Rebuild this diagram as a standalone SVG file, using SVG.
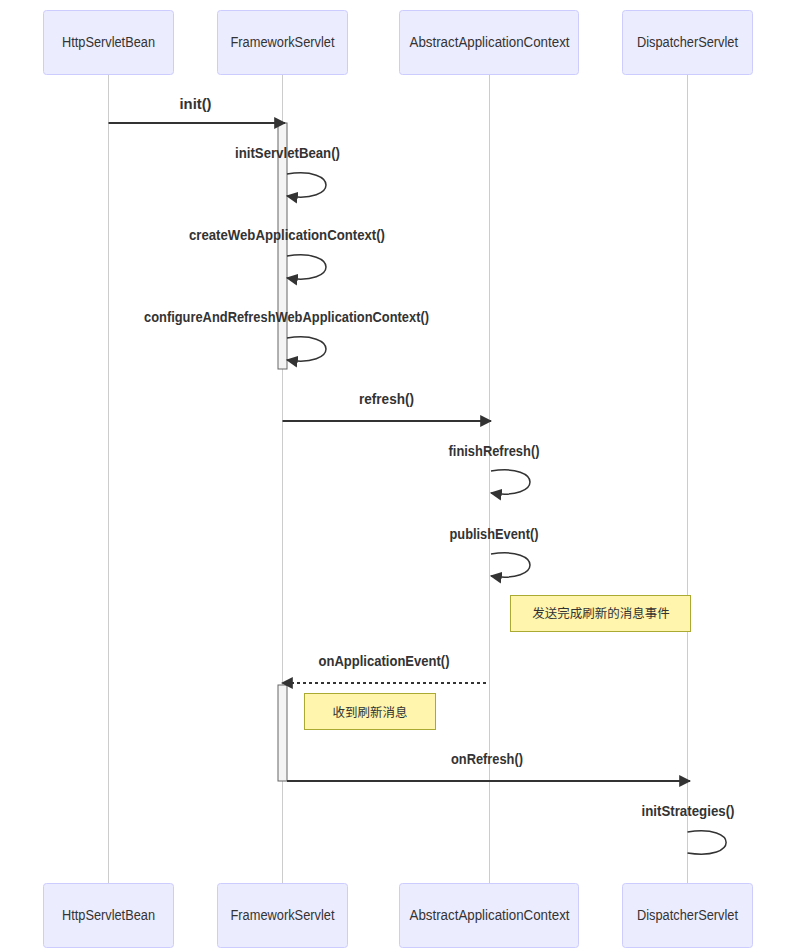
<svg xmlns="http://www.w3.org/2000/svg" width="796" height="949" viewBox="0 0 796 949">
  <style>
    .actor { fill: #ECECFF; stroke: #CCCCFF; stroke-width: 1; }
    .actor-text { font-family: "Liberation Sans", Arial, sans-serif; font-size: 14px; fill: #333; text-anchor: middle; }
    .lifeline { stroke: #cccccc; stroke-width: 1; }
    .msg { stroke: #333; stroke-width: 2; fill: none; }
    .msg-dashed { stroke: #333; stroke-width: 2; fill: none; stroke-dasharray: 3 3; }
    .loop { stroke: #333; stroke-width: 1.5; fill: none; }
    .msg-text { font-family: "Liberation Sans", Arial, sans-serif; font-size: 15px; font-weight: bold; fill: #333; text-anchor: middle; }
    .activation { fill: #f4f4f4; stroke: #666; stroke-width: 1; }
    .note { fill: #fff5ad; stroke: #aaaa33; stroke-width: 1; }
    .note-text { font-family: "Liberation Sans", "Noto Sans CJK SC", sans-serif; font-size: 12.5px; fill: #333; text-anchor: middle; }
  </style>
  <defs>
    <marker id="arrowhead" viewBox="0 0 10 10" refX="9" refY="5" markerWidth="12" markerHeight="12" markerUnits="userSpaceOnUse" orient="auto">
      <path d="M0,0 L10,5 L0,10 z" fill="#333"/>
    </marker>
  </defs>
  <rect width="796" height="949" fill="#ffffff"/>

  <!-- lifelines -->
  <g id="lifelines">
    <line class="lifeline" x1="108.5" y1="75" x2="108.5" y2="883"/>
    <line class="lifeline" x1="282.5" y1="75" x2="282.5" y2="883"/>
    <line class="lifeline" x1="489.5" y1="75" x2="489.5" y2="883"/>
    <line class="lifeline" x1="687.5" y1="75" x2="687.5" y2="883"/>
  </g>

  <!-- participants, top and bottom -->
  <g id="HttpServletBean">
    <rect class="actor" x="43.5" y="10.5" width="130" height="64" rx="3"/>
    <text class="actor-text" x="108.5" y="47" textLength="93" lengthAdjust="spacingAndGlyphs">HttpServletBean</text>
    <rect class="actor" x="43.5" y="883.5" width="130" height="64" rx="3"/>
    <text class="actor-text" x="108.5" y="920" textLength="93" lengthAdjust="spacingAndGlyphs">HttpServletBean</text>
  </g>
  <g id="FrameworkServlet">
    <rect class="actor" x="217.5" y="10.5" width="130" height="64" rx="3"/>
    <text class="actor-text" x="282.5" y="47" textLength="104" lengthAdjust="spacingAndGlyphs">FrameworkServlet</text>
    <rect class="actor" x="217.5" y="883.5" width="130" height="64" rx="3"/>
    <text class="actor-text" x="282.5" y="920" textLength="104" lengthAdjust="spacingAndGlyphs">FrameworkServlet</text>
  </g>
  <g id="AbstractApplicationContext">
    <rect class="actor" x="399.5" y="10.5" width="179" height="64" rx="3"/>
    <text class="actor-text" x="489.5" y="47" textLength="160" lengthAdjust="spacingAndGlyphs">AbstractApplicationContext</text>
    <rect class="actor" x="399.5" y="883.5" width="179" height="64" rx="3"/>
    <text class="actor-text" x="489.5" y="920" textLength="160" lengthAdjust="spacingAndGlyphs">AbstractApplicationContext</text>
  </g>
  <g id="DispatcherServlet">
    <rect class="actor" x="622.5" y="10.5" width="130" height="64" rx="3"/>
    <text class="actor-text" x="687.5" y="47" textLength="101" lengthAdjust="spacingAndGlyphs">DispatcherServlet</text>
    <rect class="actor" x="622.5" y="883.5" width="130" height="64" rx="3"/>
    <text class="actor-text" x="687.5" y="920" textLength="101" lengthAdjust="spacingAndGlyphs">DispatcherServlet</text>
  </g>

  <!-- activation bars -->
  <g id="activations">
    <rect class="activation" x="278" y="123" width="9" height="246"/>
    <rect class="activation" x="278" y="685" width="9" height="96"/>
  </g>

  <!-- notes -->
  <g id="note-publish">
    <rect class="note" x="510.5" y="595.5" width="180" height="36"/>
    <text class="note-text" x="601" y="618">发送完成刷新的消息事件</text>
  </g>
  <g id="note-receive">
    <rect class="note" x="304.5" y="693.5" width="131" height="36"/>
    <text class="note-text" x="370" y="716.5">收到刷新消息</text>
  </g>

  <!-- messages -->
  <g id="connectors">
    <line class="msg" x1="108.5" y1="123" x2="285" y2="123" marker-end="url(#arrowhead)"/>
    <text class="msg-text" x="195.5" y="109" textLength="32" lengthAdjust="spacingAndGlyphs">init()</text>

    <path class="loop" d="M287,174 C339,166 339,204 287,196" marker-end="url(#arrowhead)"/>
    <text class="msg-text" x="287.5" y="158" textLength="105" lengthAdjust="spacingAndGlyphs">initServletBean()</text>

    <path class="loop" d="M287,256 C339,248 339,286 287,278" marker-end="url(#arrowhead)"/>
    <text class="msg-text" x="287" y="240" textLength="196" lengthAdjust="spacingAndGlyphs">createWebApplicationContext()</text>

    <path class="loop" d="M287,338 C339,330 339,368 287,360" marker-end="url(#arrowhead)"/>
    <text class="msg-text" x="286.5" y="322" textLength="285" lengthAdjust="spacingAndGlyphs">configureAndRefreshWebApplicationContext()</text>

    <line class="msg" x1="282.5" y1="421" x2="491" y2="421" marker-end="url(#arrowhead)"/>
    <text class="msg-text" x="386.5" y="404" textLength="55" lengthAdjust="spacingAndGlyphs">refresh()</text>

    <path class="loop" d="M491,471 C543,463 543,501 491,493" marker-end="url(#arrowhead)"/>
    <text class="msg-text" x="494" y="456" textLength="91" lengthAdjust="spacingAndGlyphs">finishRefresh()</text>

    <path class="loop" d="M491,554 C543,546 543,584 491,576" marker-end="url(#arrowhead)"/>
    <text class="msg-text" x="494" y="539" textLength="89" lengthAdjust="spacingAndGlyphs">publishEvent()</text>

    <line class="msg-dashed" x1="486" y1="683" x2="282" y2="683" marker-end="url(#arrowhead)"/>
    <text class="msg-text" x="384" y="666" textLength="131" lengthAdjust="spacingAndGlyphs">onApplicationEvent()</text>

    <line class="msg" x1="287" y1="781" x2="690" y2="781" marker-end="url(#arrowhead)"/>
    <text class="msg-text" x="487" y="764" textLength="72" lengthAdjust="spacingAndGlyphs">onRefresh()</text>

    <path class="loop" d="M687.5,832 C739,824 739,861 687.5,853"/>
    <text class="msg-text" x="688" y="816" textLength="93" lengthAdjust="spacingAndGlyphs">initStrategies()</text>
  </g>
</svg>
